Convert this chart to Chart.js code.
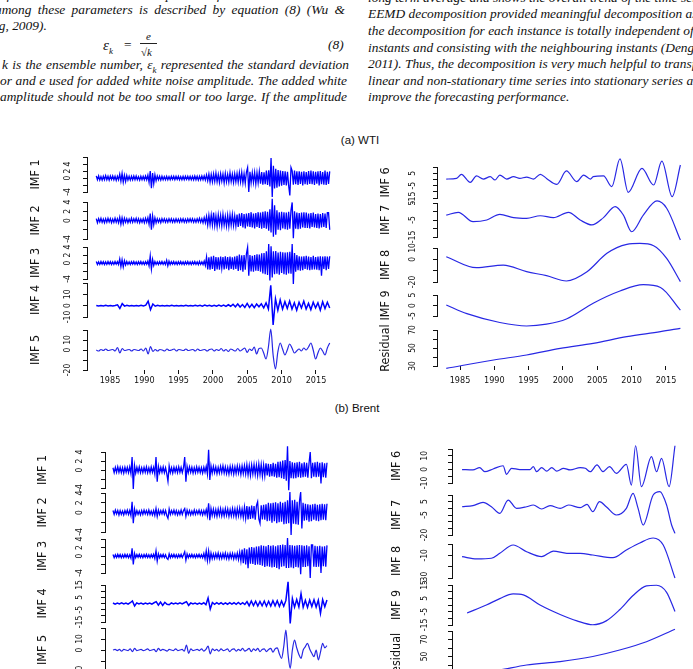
<!DOCTYPE html>
<html>
<head>
<meta charset="utf-8">
<title>EEMD decomposition of WTI and Brent</title>
<script src="https://cdn.jsdelivr.net/npm/chart.js@4.4.1/dist/chart.umd.min.js"></script>
<style>
  body { margin: 0; width: 693px; height: 669px; overflow: hidden; background: #fff; position: relative; }
  .ln { position: absolute; font-family: "Liberation Serif", "Times New Roman", serif; font-style: italic;
        font-size: 13.4px; line-height: 16px; white-space: nowrap; color: #111; }
  .j { width: 347px; text-align: justify; text-align-last: justify; white-space: normal; }
  .ln sub { font-size: 9px; }
  .cap { position: absolute; font-family: "Liberation Sans", Arial, sans-serif; font-size: 11.5px;
         line-height: 14px; color: #111; width: 120px; text-align: center; }
  canvas { position: absolute; }
</style>
</head>
<body>
<div class="ln j" style="left:0;top:-13.5px">of the ensemble and the amplitude of the white noise. The</div>
<div class="ln j" style="left:-5px;top:2px;width:350px">among these parameters is described by equation (8) (Wu &amp;</div>
<div class="ln" style="left:-31px;top:17.5px">Huang, 2009).</div>
<div class="ln" style="left:103px;top:37px;font-size:15px">ε<sub>k</sub></div>
<div class="ln" style="left:124px;top:37px;font-style:normal">=</div>
<div class="ln" style="left:146px;top:28px;font-size:11px">e</div>
<div style="position:absolute;left:140px;top:43px;width:17px;border-top:1px solid #222"></div>
<div class="ln" style="left:141px;top:44px;font-size:11px;font-style:normal">√<i>k</i></div>
<div class="ln" style="left:328px;top:37px">(8)</div>
<div class="ln j" style="left:2px;top:56.5px">k is the ensemble number, ε<sub>k</sub> represented the standard deviation</div>
<div class="ln j" style="left:0;top:72.5px">or and e used for added white noise amplitude. The added white</div>
<div class="ln j" style="left:0;top:88.5px">amplitude should not be too small or too large. If the amplitude</div>

<div class="ln" style="left:368px;top:-10.5px">long term average and shows the overall trend of the time series. The</div>
<div class="ln" style="left:368px;top:5.5px">EEMD decomposition provided meaningful decomposition as</div>
<div class="ln" style="left:368px;top:22.5px">the decomposition for each instance is totally independent of other</div>
<div class="ln" style="left:368px;top:39.5px">instants and consisting with the neighbouring instants (Deng et al.,</div>
<div class="ln" style="left:368px;top:55.5px">2011). Thus, the decomposition is very much helpful to transform non-</div>
<div class="ln" style="left:368px;top:72.5px">linear and non-stationary time series into stationary series and</div>
<div class="ln" style="left:368px;top:88.5px">improve the forecasting performance.</div>

<div class="cap" style="left:300px;top:133px">(a) WTI</div>
<div class="cap" style="left:297px;top:401px">(b) Brent</div>

<script>
// ---- data ----
const yearTicks = [1985, 1990, 1995, 2000, 2005, 2010, 2015];

// WTI high-frequency IMFs, evenly spaced from 1983 to 2017
const wtiStart = 1983.0, wtiEnd = 2017.0;
const wtiImf1 = [
  0.6,-0.5,0.6,-0.6,0.4,-0.6,0.5,-0.5,0.7,-0.5,0.5,-0.6,0.6,-0.4,0.6,-0.5,0.5,-0.7,0.5,-0.5,
  1.1,-0.9,1.3,-1.2,0.8,-1.0,0.7,-0.6,0.5,-0.6,0.5,-0.5,0.6,-0.5,0.6,-0.5,0.4,-0.6,0.5,-0.5,
  0.5,-0.5,0.6,-0.5,0.8,-1.2,2.0,-2.9,1.4,-1.6,0.9,-0.8,0.6,-0.5,0.5,-0.6,0.5,-0.5,0.4,-0.5,
  0.5,-0.5,0.4,-0.5,0.5,-0.4,0.5,-0.5,0.5,-0.4,0.5,-0.5,0.4,-0.5,0.5,-0.5,0.5,-0.4,0.5,-0.5,
  0.5,-0.5,0.5,-0.5,0.6,-0.5,0.5,-0.6,0.5,-0.5,0.6,-0.5,0.6,-0.6,0.9,-0.8,1.1,-1.2,1.0,-1.1,
  1.2,-1.0,1.4,-1.1,1.0,-1.3,1.2,-0.9,1.1,-1.4,1.3,-1.1,1.0,-1.2,1.5,-1.0,1.1,-1.3,1.2,-1.1,
  1.3,-1.2,1.5,-1.1,1.6,-1.4,1.2,-1.5,1.7,3.0,-4.0,1.8,-1.4,1.5,-1.3,1.6,-1.7,1.5,-1.4,1.8,
  -1.6,1.7,-1.9,1.6,-1.8,2.1,-2.0,2.2,-2.4,5.7,-5.4,3.5,-3.0,2.6,-2.8,2.3,-2.4,2.1,-2.2,2.0,
  -2.0,1.9,-2.1,1.8,-2.2,-5.0,3.0,2.0,-1.9,2.1,-1.8,1.9,-2.0,1.9,-1.7,1.8,-2.1,1.9,-1.8,1.7,
  -1.9,2.0,-1.7,2.1,-1.8,1.9,-2.0,1.8,-1.6,1.9,-2.1,2.0,-1.8,1.7,-1.9,2.1,-2.0,1.8,-1.7,1.9
];
const wtiImf2 = [
  0.4,-0.5,0.4,-0.3,0.5,-0.4,0.3,-0.5,0.4,-0.4,0.5,-0.3,0.4,-0.5,0.3,-0.4,0.5,-0.4,0.4,-0.5,
  0.7,-0.8,0.6,-0.7,0.5,-0.4,0.4,-0.5,0.3,-0.4,0.5,-0.4,0.4,-0.3,0.5,-0.4,0.4,-0.5,0.3,-0.4,
  0.4,-0.5,0.5,-0.4,0.6,-0.8,1.5,-2.0,1.0,-0.9,0.6,-0.5,0.4,-0.4,0.3,-0.5,0.4,-0.3,0.4,-0.4,
  0.3,-0.4,0.4,-0.3,0.4,-0.4,0.3,-0.4,0.4,-0.3,0.3,-0.4,0.4,-0.3,0.4,-0.4,0.3,-0.4,0.4,-0.3,
  0.4,-0.3,0.4,-0.4,0.3,-0.4,0.4,-0.3,0.5,-0.4,0.4,-0.5,0.6,-0.5,0.9,-1.0,1.1,-0.9,1.2,-1.0,
  1.7,-1.1,1.0,-1.3,1.2,-0.9,1.1,-1.2,1.3,-1.0,0.9,-1.2,1.1,-1.3,1.2,-1.0,1.3,-1.1,1.0,-1.2,
  1.3,-1.4,1.5,-1.2,1.6,-1.5,1.4,-1.7,1.5,-1.3,1.6,-1.4,1.8,-1.5,1.5,-1.7,1.6,-1.4,1.8,-1.6,
  1.7,-1.8,1.9,-1.6,2.0,-1.8,1.9,-2.2,2.4,-2.6,4.7,-3.5,3.3,-3.1,2.2,-2.0,1.8,-2.1,1.9,-1.7,
  1.8,-1.9,1.7,-2.0,1.9,-1.8,2.2,3.9,-3.85,2.0,-1.8,1.7,-1.9,1.6,-1.8,1.7,-1.5,1.8,-1.6,1.7,
  -1.6,1.5,-1.7,1.6,-1.4,1.7,-1.5,1.4,-1.6,1.5,-1.7,1.4,-1.5,1.6,-1.4,1.5,-1.6,1.7,1.7,-2.0
];
const wtiImf3 = [
  0.35,-0.4,0.3,-0.35,0.4,-0.3,0.35,-0.4,0.3,-0.35,0.4,-0.3,0.35,-0.4,0.3,-0.35,0.4,-0.3,0.35,-0.4,
  1.0,-0.9,0.8,-1.0,0.6,-0.5,0.4,-0.35,0.3,-0.4,0.35,-0.3,0.4,-0.35,0.3,-0.4,0.35,-0.3,0.4,-0.35,
  0.3,-0.4,0.35,-0.3,0.5,-0.7,1.8,-1.5,0.9,-0.6,0.4,-0.35,0.3,-0.4,0.35,-0.3,0.4,-0.35,0.3,-0.4,
  0.7,-0.7,0.5,-0.4,0.35,-0.3,0.4,-0.35,0.3,-0.4,0.35,-0.3,0.4,-0.35,0.3,-0.4,0.35,-0.3,0.4,-0.35,
  0.3,-0.4,0.35,-0.3,0.4,-0.35,0.3,-0.4,0.4,-0.35,0.3,-0.4,0.5,-0.6,1.5,-1.6,1.4,-1.7,1.6,-1.5,
  1.8,-2.0,1.5,-1.6,1.4,-1.7,1.6,-1.3,1.5,-1.6,1.7,-1.4,1.5,-1.8,1.6,-1.5,1.4,-1.7,1.6,-1.5,
  1.8,-2.0,2.1,-1.8,1.9,-2.2,2.0,-1.7,2.3,3.9,-3.2,2.0,-2.1,1.8,-2.2,2.0,-1.9,2.2,-2.0,2.1,
  -2.2,2.4,-2.6,2.5,-2.8,2.9,-3.0,4.75,-4.4,4.2,-3.6,2.9,-2.8,3.0,-2.7,2.6,-2.9,2.8,-2.5,2.7,
  -2.8,2.6,-2.9,2.7,-2.6,2.8,-2.7,4.75,-5.25,2.5,-2.2,2.0,-1.8,1.7,-1.9,1.6,-1.8,1.7,-1.5,1.8,
  -1.7,1.6,-1.8,1.5,-1.7,1.8,-1.6,1.5,-1.7,1.6,-1.8,1.7,-3.2,1.6,-1.5,1.7,-1.8,1.6,-1.5,1.7
];
const wtiImf4 = [
  0.2,-0.3,0.2,-0.2,0.3,-0.2,0.2,-0.3,0.2,0.8,
  -2.5,1.8,-0.4,0.3,-0.2,0.2,-0.3,0.2,-0.2,0.3,
  -0.3,0.5,4.0,-3.5,1.5,-0.5,0.3,-0.2,0.2,-0.3,
  0.2,-0.2,0.3,-0.2,0.2,-0.3,0.2,-0.2,0.3,-0.2,
  0.2,-0.3,0.3,-0.2,0.3,-0.4,0.5,-0.3,0.4,-0.5,
  0.4,-0.5,0.6,-0.4,0.5,-0.6,0.8,-0.5,1.2,-1.0,
  1.5,-1.2,1.0,-1.6,2.0,-1.5,1.2,-1.8,1.4,-1.0,
  1.6,-2.0,2.5,-3.0,18,-17,6,-4,5,-3,
  3.5,-2.5,4,-3,2.5,-4,3,-2,4,-3,
  2,-3.5,3,-2,2.5,-4,3.5,-2.5,3,-2
];
const wtiImf5 = [
  0,-1,0.5,-0.5,1,-0.5,0,0.5,-1,2.5,
  -3,1.5,-0.5,0,0.5,-1,0.5,0,-0.5,1,
  -1,2,-4,3.5,-1.5,0.5,-1,0.5,0,-1,
  1,-0.5,0,1,-1,0.5,0,-0.5,1,-0.5,
  0,0.5,-1,1,-0.5,0,0.5,-1,0.5,1,
  -1,0.5,-0.5,1.5,-1,0.5,-1.5,1,0,-1,
  1.5,-1,0.5,2,-2.5,1,-0.5,3,-4,1.5,
  2,-3,-9,3,21,-5,-19,-2,7,1,
  -5,0,6,2,-3,-1,1,-1,2,0,
  3,7,0,-9,-3,2,-1,-5,2,7
];

// WTI low-frequency IMFs and residual, (year, value) pairs
const wtiImf6Years = [1983.0,1984.5,1985.2,1986.5,1987.4,1988.4,1989.4,1990.1,1990.8,1991.8,1992.8,1993.7,1994.7,1995.7,1996.7,1997.6,1999.1,2000.5,2002.0,2003.0,2004.0,2004.4,2005.9,2007.1,2008.3,2009.5,2011.5,2013.2,2014.4,2015.9,2017.1];
const wtiImf6 = [0.3,0.8,4.1,-2.4,2.8,0.3,2.2,-0.5,3.5,0.3,2.2,0.8,1.9,0.3,4.1,0.8,-4.0,6.8,-1.8,3.5,0.3,2.2,2.8,-5.8,16.5,-10.4,8.9,-4.5,14.8,-13.9,11.6];
const wtiImf7Years = [1983.0,1984.75,1986.9,1988.9,1990.8,1992.8,1994.7,1996.7,1998.6,2000.8,2002.5,2004.2,2005.9,2007.6,2008.8,2010.0,2011.7,2013.7,2015.1,2017.1];
const wtiImf7 = [-2.1,-0.5,-6.0,-5.0,-1.7,-3.6,-4.0,-2.5,-3.6,-0.5,-5.0,-7.9,-3.6,2.9,-2.1,-11.9,-2.1,6.2,1.9,-16.8];
const wtiImf8Years = [1983.0,1987.4,1991.3,1994.7,1997.6,2000.5,2003.5,2006.4,2009.3,2011.2,2013.2,2015.1,2017.1];
const wtiImf8 = [2.3,-7.4,-5.1,-10.9,-14.4,-19.1,-10.9,5.3,13.2,14.0,12.0,0.8,-19.7];
const wtiImf9Years = [1983.0,1986.0,1990.8,1994.7,1997.6,2000.5,2004.4,2008.3,2011.7,2014.2,2017.1];
const wtiImf9 = [0.25,-3.9,-8.1,-9.75,-8.9,-6.4,1.1,6.9,9.9,8.6,-2.25];
const wtiResYears = [1983.0,1989.9,1994.7,1999.6,2004.4,2009.3,2014.2,2017.1];
const wtiRes = [27.4,36.7,42.2,49.6,55.2,62.6,68.1,71.9];

// Brent high-frequency IMFs, evenly spaced over the sample
const brentStart = 1988.0, brentEnd = 2013.5;
const brentImf1 = [
  0.5,-0.6,0.6,-0.5,0.7,-0.5,0.6,-0.6,0.5,-0.7,0.6,-0.5,0.6,-0.6,0.7,-0.8,2.9,-4.2,1.0,-0.7,
  0.6,-0.5,0.7,-0.6,0.5,-0.6,0.6,-0.5,0.7,-0.6,0.5,-0.6,0.7,-0.5,0.6,-0.9,2.9,-2.6,0.8,-0.6,
  0.6,-0.5,0.7,-0.6,0.5,-0.8,-2.5,0.9,-0.6,0.5,-0.7,0.6,-0.5,0.6,-0.6,0.7,-0.5,0.6,-0.6,0.5,
  2.9,-2.6,0.8,-0.6,0.7,-0.5,0.6,-0.7,0.5,-0.6,0.7,-0.5,0.6,-0.6,0.5,-0.7,0.6,-0.5,0.8,-0.9,
  4.5,-2.2,0.9,-0.7,0.8,-0.6,0.7,-0.8,0.6,-0.7,0.8,-0.6,0.9,-0.7,0.7,-0.8,0.6,-0.9,0.8,-0.7,
  0.8,-0.9,0.7,-0.8,0.9,-0.7,0.8,-1.0,0.9,-0.8,1.0,-0.9,1.2,-1.1,1.0,-1.2,1.1,-0.9,1.2,-1.0,
  1.1,-1.2,1.3,-1.0,1.2,-1.4,1.1,-1.3,1.5,-1.2,1.4,-1.5,1.3,-1.4,1.6,-1.5,1.4,-1.7,1.8,-1.6,
  1.9,-1.8,2.1,-2.0,2.2,-2.4,5.3,-4.5,2.0,-1.8,1.7,-1.9,1.6,-1.8,1.7,-1.6,1.8,-1.7,1.5,-1.6,
  1.7,-1.5,1.6,-1.7,1.5,4.0,-1.8,1.6,-1.5,1.7,-1.6,1.8,-1.5,1.6,-3.0,1.7,-1.6,1.5,-1.7,1.6
];
const brentImf2 = [
  0.4,-0.4,0.5,-0.3,0.4,-0.5,0.4,-0.4,0.3,-0.5,0.4,-0.3,0.5,-0.4,0.4,-0.6,2.2,-2.2,0.7,-0.5,
  0.4,-0.4,0.3,-0.5,0.4,-0.4,0.5,-0.3,0.4,-0.4,0.5,-0.4,0.3,-0.5,0.4,-0.6,0.8,-0.8,0.5,-0.4,
  0.4,-0.3,0.5,-0.4,0.4,-0.6,-1.2,0.7,-0.4,0.4,-0.3,0.5,-0.4,0.4,-0.5,0.3,-0.4,0.5,-0.4,0.4,
  0.8,-0.8,0.5,-0.4,0.4,-0.5,0.3,-0.4,0.5,-0.4,0.4,-0.3,0.5,-0.4,0.4,-0.5,0.4,-0.4,0.6,-0.7,
  1.9,-1.6,0.8,-0.6,0.7,-0.7,0.6,-0.8,0.7,-0.6,0.8,-0.7,0.6,-0.7,0.8,-0.6,0.7,-0.8,0.6,-0.7,
  0.8,-0.7,0.7,-0.9,0.8,-0.7,0.9,-0.8,0.7,-1.0,1.1,-1.2,1.3,-1.4,1.2,-1.3,1.4,-1.2,1.3,-1.5,
  1.4,2.2,-1.3,-2.2,1.5,-1.4,1.6,-1.5,1.7,-1.8,2.0,-1.7,1.9,-2.1,2.0,-1.8,2.1,-2.2,1.9,-2.0,
  2.2,-1.9,2.0,-2.4,2.2,-2.3,2.5,-2.2,4.2,-4.6,2.5,-2.3,2.6,-2.4,2.2,-2.5,2.3,4.2,-3.3,2.0,
  -1.7,1.8,-1.6,1.7,-1.9,1.6,-1.8,1.7,-1.5,1.8,-1.7,1.6,-1.8,1.7,-1.6,1.8,-1.5,1.7,-1.6,1.8
];
const brentImf3 = [
  0.35,-0.4,0.3,-0.35,0.4,-0.3,0.35,-0.4,0.3,-0.35,0.4,-0.3,0.35,-0.4,0.3,-0.5,1.8,-2.0,0.6,-0.4,
  0.35,-0.3,0.4,-0.35,0.3,-0.4,0.35,-0.3,0.4,-0.35,0.3,-0.4,0.35,-0.3,0.4,-0.6,1.2,-1.2,0.5,-0.4,
  0.35,-0.3,0.4,-0.35,0.3,-0.5,-0.8,0.5,-0.4,0.35,-0.3,0.4,-0.35,0.3,-0.4,0.35,-0.3,0.4,-0.35,0.3,
  1.0,-1.0,0.5,-0.4,0.35,-0.3,0.4,-0.35,0.3,-0.4,0.35,-0.3,0.4,-0.35,0.3,-0.4,0.6,-0.7,1.2,-1.1,
  1.2,-1.0,0.7,-0.6,0.5,-0.6,0.6,-0.5,0.7,-0.6,0.5,-0.6,0.6,-0.5,0.7,-0.6,0.5,-0.7,0.6,-0.5,
  0.6,-0.7,0.5,-0.6,0.7,-0.8,0.9,-1.2,1.5,-1.7,1.8,-2.0,1.6,-2.9,2.0,-1.8,2.1,-1.9,2.0,-2.1,
  2.2,-2.0,2.3,-2.1,2.5,-2.3,2.4,-2.6,2.3,-2.4,2.6,-2.5,2.4,-2.7,2.5,-2.6,2.3,-2.8,2.5,-3.1,
  2.6,-2.5,2.7,-2.4,2.6,-2.8,4.2,-2.8,2.6,-2.7,2.5,-2.9,2.4,-2.6,2.5,-2.7,2.6,-4.3,2.5,-2.6,
  2.4,-2.6,2.5,-2.4,2.3,-5.2,2.6,2.6,-2.5,2.4,-2.6,2.3,-2.5,2.4,-4.0,2.2,-2.4,2.3,-2.5,2.5
];
const brentImf4 = [
  0.4,-0.5,0.3,-0.4,0.5,-0.3,0.4,-0.5,0.6,2.0,
  -2.0,0.5,-0.4,0.3,-0.5,0.4,-0.3,0.4,-0.5,0.6,
  1.5,-1.4,1.2,-1.5,1.0,-0.6,-1.0,0.5,-0.4,0.3,
  -0.4,0.5,-0.3,0.6,1.5,-1.5,0.5,-0.4,0.3,-0.5,
  0.4,-0.5,0.6,-1.0,4.5,-4.5,0.8,-0.6,0.7,-0.5,
  0.6,-0.7,0.5,-0.6,0.7,-0.5,0.6,-0.7,0.8,-0.6,
  0.7,-0.8,1.5,-1.8,2.0,-1.6,1.8,-2.0,1.7,-1.9,
  2.0,-2.2,1.8,-2.1,2.3,-1.9,2.2,-2.4,2.0,-2.2,
  2.5,17.6,-16.2,4.0,-3.0,3.2,-2.8,8.0,-3.0,2.6,
  -3.2,2.8,-2.5,3.0,-2.9,2.7,-8.0,3.1,-2.6,2.9
];
const brentImf5 = [
  0,0.5,-0.5,0.5,-1,0.5,0,-0.5,1,-1.5,
  1.5,-0.5,0,0.5,-0.5,0,1,-0.5,0,0.5,
  -1.5,1.5,-0.5,0.5,0,-1,0.5,0,-0.5,1,
  -0.5,0,0.5,-1,4.5,-3,1,-0.5,0,0.5,
  -0.5,1,-1,0.5,3.6,-3.6,1,-0.5,0.5,-1,
  1,-0.5,0,1,-1.5,0.5,1,-1,0.5,-0.5,
  1.5,-1,0,1.5,-1.5,1,-0.5,1.5,-1.5,0.5,
  1,-1.5,0.5,1.5,-2,1,2,-3.6,-7.6,3,
  18,-4,-16.7,0,9,2,-4,-7.6,0,3,
  6,1,-3,-6,0,-9,-2,6,2,4
];

// Brent low-frequency IMFs and residual
const brentImf6Years = [1988.0,1989.3,1990.1,1990.7,1991.7,1992.9,1993.3,1993.9,1994.9,1996.1,1996.5,1996.9,1997.5,1998.1,1998.7,1999.3,2000.1,2000.9,2002.1,2002.7,2003.3,2004.1,2004.8,2005.6,2006.4,2007.6,2008.2,2008.7,2009.4,2010.6,2011.2,2011.8,2012.7,2013.4];
const brentImf6 = [-0.1,-0.4,1.3,-1.7,0.3,2.7,-3.6,0.8,-0.1,-0.1,2.0,-1.7,1.3,-1.2,1.3,-1.2,0.8,-0.4,1.3,0.8,-1.7,3.3,-1.7,2.0,-2.9,3.7,-11.5,17.4,-12.7,9.4,-1.7,8.1,-12.7,17.4];
const brentImf7Years = [1988.0,1989.3,1990.5,1991.5,1992.5,1993.5,1994.5,1995.7,1996.5,1997.5,1998.5,1999.7,2000.7,2002.1,2002.9,2003.6,2004.4,2005.2,2006.4,2007.6,2008.4,2009.0,2009.6,2010.8,2011.6,2012.4,2013.0,2013.4];
const brentImf7 = [1.2,2.0,4.5,1.2,-3.8,6.2,0,1.2,2.5,-0.5,2.0,0,2.5,0.5,3.0,-2.5,5.0,1.2,-5.0,0,11.2,0,-12.5,10,12.5,2.5,-12.5,-18.8];
const brentImf8Years = [1988.0,1989.75,1991.5,1992.5,1994.1,1995.7,1997.5,1998.9,2000.5,2002.1,2003.6,2006.0,2007.6,2009.2,2010.8,2012.0,2013.4];
const brentImf8 = [-11.2,-13.2,-12.6,-8.2,-0.9,-6.8,-11.2,-6.2,-8.2,-8.2,-9.7,-12.1,-5.3,0.9,5.3,-0.9,-30];
const brentImf9Years = [1988.6,1990.9,1992.5,1994.1,1995.3,1997.3,1999.7,2001.7,2003.6,2005.2,2006.8,2008.4,2010.0,2011.2,2012.4,2013.4];
const brentImf9 = [-5.95,0,4.8,8.3,7.6,0,-7.1,-11.9,-14.8,-11.9,-3.6,7.1,14.3,14.8,9.5,-4.8];
const brentResYears = [1988.0,1992.5,1995.7,1999.7,2003.6,2006.8,2010.0,2013.4];
const brentRes = [27,34,40,44,50,57.6,67.4,82];

// y tick values and the labels R printed on them
const ticksM4To6 = [-4,-2,0,2,4,6],            labsM4To6 = ['-4','','0','2','4',''];
const ticks4 = [-4,-2,0,2,4],                   labs4 = ['-4','','0','2','4'];
const ticks10To20 = [-10,0,10,20],              labs10To20 = ['-10','0','10',''];
const ticks20 = [-20,-10,0,10,20],              labs20 = ['-20','','0','10',''];
const ticks15To10 = [-15,-10,-5,0,5,10],        labs15To10 = ['-15','','-5','','5',''];
const ticks15To5 = [-15,-10,-5,0,5],            labs15To5 = ['-15','','-5','','5'];
const ticks20To10 = [-20,-10,0,10],             labs20To10 = ['-20','','0','10'];
const ticks5 = [-5,0,5],                        labs5 = ['-5','0','5'];
const ticks30To70 = [30,40,50,60,70],           labs30To70 = ['30','','50','','70'];
const ticks15 = [-15,-10,-5,0,5,10,15],         labs15 = ['-15','','-5','','5','','15'];
const ticks10To15 = [-10,-5,0,5,10,15],         labs10To15 = ['-10','','0','','10',''];
const ticks20To10b = [-20,-15,-10,-5,0,5,10],   labs20To10b = ['-20','','','-5','','5',''];
const ticks30To0 = [-30,-20,-10,0],             labs30To0 = ['-30','','-10',''];
const ticks20To80 = [20,30,40,50,60,70,80],     labs20To80 = ['','30','','50','','70',''];

// ---- drawing ----
const family = '"Liberation Sans Narrow", "DejaVu Sans Condensed", "Liberation Sans", Arial, sans-serif';
const tickSize = 8.5, titleSize = 12.5;
const meas = document.createElement('canvas').getContext('2d');

function grid(a, b, n) {
  const out = [];
  for (let i = 0; i < n; i++) out.push(a + (b - a) * i / (n - 1));
  return out;
}

function panel(p) {
  const m = 16;
  const bottomAxis = !!p.years;
  const cv = document.createElement('canvas');
  cv.width = p.right - p.axisX + 81;
  cv.height = p.bottom - p.top + m + (bottomAxis ? 26 : m);
  cv.style.left = (p.axisX - 75) + 'px';
  cv.style.top = (p.top - m) + 'px';
  document.body.appendChild(cv);

  meas.font = tickSize + 'px ' + family;
  const widest = Math.max(...p.labels.map(s => meas.measureText(s).width));
  const pts = p.xs.map((x, i) => ({x: x, y: p.ys[i]}));

  new Chart(cv, {
    type: 'line',
    data: {
      datasets: [{
        data: pts,
        borderColor: p.smooth ? '#2828e4' : '#0000ff',
        borderWidth: p.lw || 1.2,
        pointRadius: 0,
        tension: 0,
        cubicInterpolationMode: p.smooth ? 'monotone' : 'default',
        clip: false
      }]
    },
    options: {
      responsive: false,
      animation: false,
      events: [],
      layout: { padding: { left: 0, right: 6, top: m, bottom: bottomAxis ? 0 : m } },
      plugins: { legend: { display: false }, tooltip: { enabled: false } },
      scales: {
        x: {
          type: 'linear', min: p.xMin, max: p.xMax, display: bottomAxis,
          afterBuildTicks: s => { if (bottomAxis) s.ticks = p.years.map(v => ({value: v})); },
          afterFit: s => {
            if (!bottomAxis) return;
            s.height = 26; s.paddingLeft = 0; s.paddingRight = 0;
          },
          ticks: { callback: v => String(v), color: '#111', font: {family: family, size: 9},
                   padding: p.xPad || 1, maxRotation: 0, autoSkip: false },
          grid: { drawOnChartArea: false, tickLength: 4, color: '#111' },
          border: { display: false }
        },
        y: {
          min: p.ticks[0], max: p.ticks[p.ticks.length - 1],
          afterBuildTicks: s => { s.ticks = p.ticks.map(v => ({value: v})); },
          afterFit: s => { s.width = 75; s.paddingTop = 0; s.paddingBottom = 0; },
          ticks: { callback: (v, i) => p.labels[i], color: '#111', font: {family: family, size: tickSize},
                   minRotation: 90, maxRotation: 90, crossAlign: 'center',
                   padding: p.labelGap - 4 - widest / 2, autoSkip: false },
          grid: { drawOnChartArea: false, tickLength: 4, color: '#111' },
          border: { color: '#111', width: 1 },
          title: { display: true, text: p.title, color: '#111', font: {family: family, size: titleSize},
                   padding: { top: 75 - p.titleGap - titleSize * 0.6, bottom: 0 } }
        }
      }
    }
  });
}

// column layouts (pixel geometry only)
const wtiL = {axisX: 87, right: 335, xMin: 1981.65, xMax: 2017.77, titleGap: 51, labelGap: 19};
const wtiR = {axisX: 437, right: 685, xMin: 1981.65, xMax: 2017.77, titleGap: 51, labelGap: 24};
const brL = {axisX: 105, right: 332, xMin: 1987.05, xMax: 2014.1, titleGap: 62, labelGap: 25};
const brR = {axisX: 452, right: 680, xMin: 1986.8, xMax: 2014.0, titleGap: 55, labelGap: 27};
const dense = 1.3;   // stroke for the noisy bands

const wg = a => grid(wtiStart, wtiEnd, a.length);
const bg = a => grid(brentStart, brentEnd, a.length);

[
  {...wtiL, title: 'IMF 1', top: 157, bottom: 192, ticks: ticksM4To6, labels: labsM4To6, xs: wg(wtiImf1), ys: wtiImf1, lw: dense},
  {...wtiL, title: 'IMF 2', top: 202, bottom: 239, ticks: ticks4, labels: labs4, xs: wg(wtiImf2), ys: wtiImf2, lw: dense},
  {...wtiL, title: 'IMF 3', top: 247, bottom: 279, ticks: ticks4, labels: labs4, xs: wg(wtiImf3), ys: wtiImf3, lw: dense},
  {...wtiL, title: 'IMF 4', top: 283, bottom: 317, ticks: ticks10To20, labels: labs10To20, xs: wg(wtiImf4), ys: wtiImf4, lw: 1.5},
  {...wtiL, title: 'IMF 5', top: 330, bottom: 370, ticks: ticks20, labels: labs20, xs: wg(wtiImf5), ys: wtiImf5,
   years: yearTicks, xPad: 1, smooth: true},
  {...wtiR, title: 'IMF 6', top: 167, bottom: 198, ticks: ticks15To10, labels: labs15To10, xs: wtiImf6Years, ys: wtiImf6, smooth: true},
  {...wtiR, title: 'IMF 7', top: 203, bottom: 237, ticks: ticks15To5, labels: labs15To5, xs: wtiImf7Years, ys: wtiImf7, smooth: true},
  {...wtiR, title: 'IMF 8', top: 248, bottom: 282, ticks: ticks20To10, labels: labs20To10, xs: wtiImf8Years, ys: wtiImf8, smooth: true},
  {...wtiR, title: 'IMF 9', top: 295, bottom: 316, ticks: ticks5, labels: labs5, xs: wtiImf9Years, ys: wtiImf9, smooth: true},
  {...wtiR, title: 'Residual', top: 330, bottom: 366, ticks: ticks30To70, labels: labs30To70, xs: wtiResYears, ys: wtiRes,
   smooth: true, years: yearTicks, xPad: 5},

  {...brL, title: 'IMF 1', top: 452, bottom: 488, ticks: ticks4, labels: labs4, xs: bg(brentImf1), ys: brentImf1, lw: dense},
  {...brL, title: 'IMF 2', top: 493, bottom: 532, ticks: ticks4, labels: labs4, xs: bg(brentImf2), ys: brentImf2, lw: dense},
  {...brL, title: 'IMF 3', top: 539, bottom: 573, ticks: ticks4, labels: labs4, xs: bg(brentImf3), ys: brentImf3, lw: dense},
  {...brL, title: 'IMF 4', top: 585, bottom: 622, ticks: ticks15, labels: labs15, xs: bg(brentImf4), ys: brentImf4, lw: 1.5},
  {...brL, title: 'IMF 5', top: 628, bottom: 672, ticks: ticks20, labels: labs20, xs: bg(brentImf5), ys: brentImf5, smooth: true},
  {...brR, title: 'IMF 6', top: 449, bottom: 483, ticks: ticks10To15, labels: labs10To15, xs: brentImf6Years, ys: brentImf6, smooth: true},
  {...brR, title: 'IMF 7', top: 495, bottom: 535, ticks: ticks20To10b, labels: labs20To10b, xs: brentImf7Years, ys: brentImf7, smooth: true},
  {...brR, title: 'IMF 8', top: 544, bottom: 578, ticks: ticks30To0, labels: labs30To0, xs: brentImf8Years, ys: brentImf8, smooth: true},
  {...brR, title: 'IMF 9', top: 585, bottom: 625, ticks: ticks15, labels: labs15, xs: brentImf9Years, ys: brentImf9, smooth: true},
  {...brR, title: 'Residual', top: 631, bottom: 682, ticks: ticks20To80, labels: labs20To80, xs: brentResYears, ys: brentRes, smooth: true}
].forEach(panel);
</script>
</body>
</html>
